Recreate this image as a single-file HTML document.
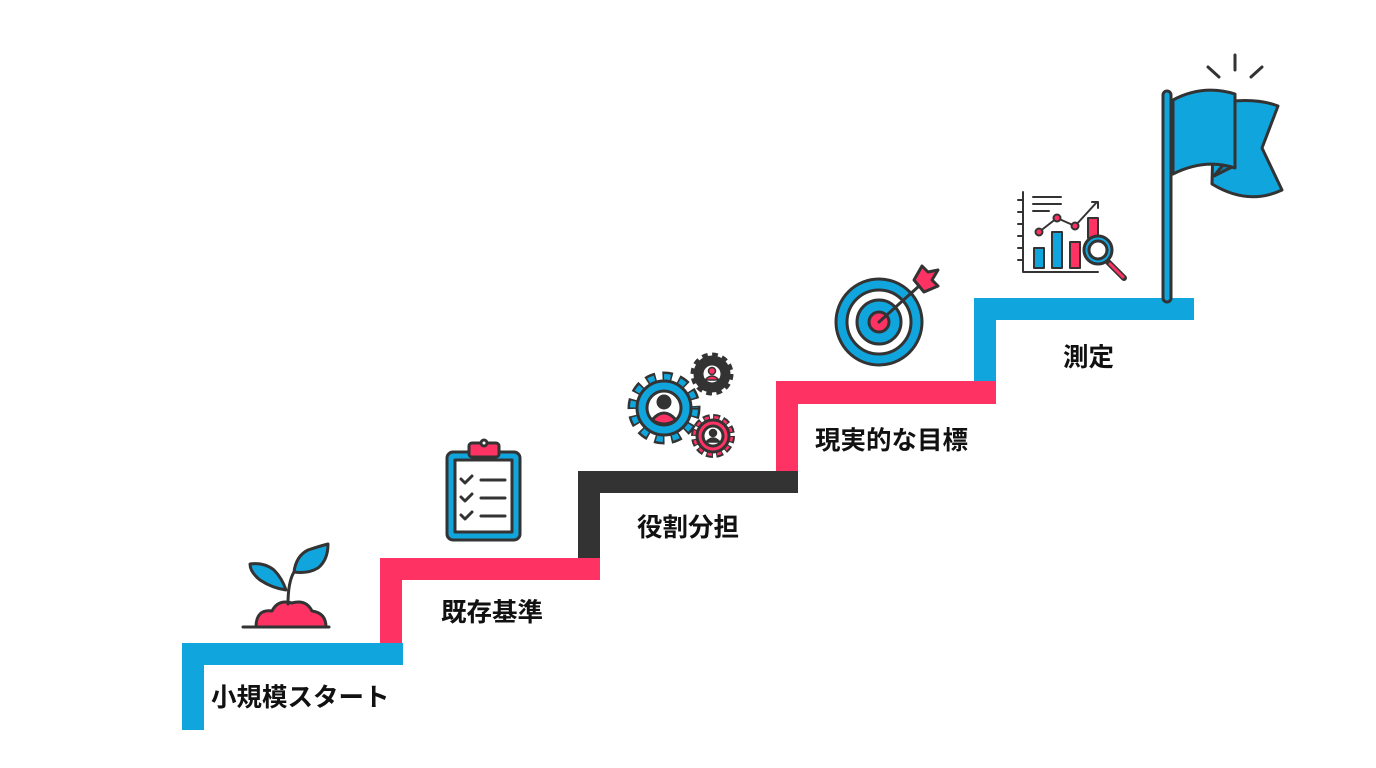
<!DOCTYPE html>
<html><head><meta charset="utf-8"><style>
body{margin:0;background:#fff;width:1376px;height:768px;overflow:hidden}
svg{position:absolute;left:0;top:0}
text{font-family:"Liberation Sans","Noto Sans CJK JP",sans-serif;font-weight:bold;font-size:25.5px;fill:#111}
</style></head><body>
<svg width="1376" height="768" viewBox="0 0 1376 768">
<g>
<rect x="182" y="643" width="22" height="87" fill="#10a5dc"/><rect x="182" y="643" width="221" height="22" fill="#10a5dc"/>
<rect x="380" y="558" width="22" height="85" fill="#fe3363"/><rect x="380" y="558" width="220" height="22" fill="#fe3363"/>
<rect x="578" y="471" width="22" height="87" fill="#333"/><rect x="578" y="471" width="220" height="22" fill="#333"/>
<rect x="776" y="381" width="22" height="90" fill="#fe3363"/><rect x="776" y="381" width="220" height="23" fill="#fe3363"/>
<rect x="974" y="298" width="22" height="83" fill="#10a5dc"/><rect x="974" y="298" width="220" height="22" fill="#10a5dc"/>
</g>
<text x="211" y="706">小規模スタート</text>
<text x="441" y="621">既存基準</text>
<text x="637" y="536">役割分担</text>
<text x="815" y="449">現実的な目標</text>
<text x="1063" y="366">測定</text>

<g stroke="#333" stroke-width="3" stroke-linecap="round" stroke-linejoin="round">
<line x1="243" y1="627" x2="329" y2="627"/>
<path d="M256 627 q0-18 16-16 q6-12 20-8 q14-4 20 8 q14 2 14 16z" fill="#fe3363"/>
<path d="M288 604 q0-22 6-32 q6-10 14-14" fill="none"/>
<path d="M286 590 q-14 -2-26-10 q-10-8-10-16 q14-2 24 6 q8 8 12 20z" fill="#10a5dc"/>
<path d="M294 572 q2-16 14-22 q12-4 20-6 q0 16-10 24 q-10 6-24 4z" fill="#10a5dc"/>
<rect x="447" y="452" width="73" height="88" rx="6" fill="#10a5dc"/>
<rect x="455" y="460" width="57" height="72" fill="#fff"/>
<rect x="469" y="443" width="30" height="14" rx="3" fill="#fe3363"/>
<circle cx="484" cy="443" r="3" fill="#fff"/>
<path d="M461 479 l4 4 l7-7 M461 497 l4 4 l7-7 M461 515 l4 4 l7-7" fill="none"/>
<path d="M481 480 h24 M481 498 h24 M481 516 h24"/>
<circle cx="664" cy="408" r="29" fill="none" stroke="#333" stroke-width="15" stroke-dasharray="9 6" stroke-linecap="butt"/>
<circle cx="664" cy="408" r="29" fill="none" stroke="#10a5dc" stroke-width="10" stroke-dasharray="6 9" stroke-dashoffset="-1.5" stroke-linecap="butt"/>
<circle cx="664" cy="408" r="27" fill="#10a5dc"/>
<circle cx="664" cy="408" r="17" fill="#fff"/>
<circle cx="664" cy="402" r="6" fill="#333"/>
<path d="M652 420 q12-14 24 0 q-12 8-24 0z" fill="#fe3363"/>
<circle cx="712" cy="374" r="17" fill="none" stroke="#333" stroke-width="9" stroke-dasharray="5 3.9" stroke-linecap="butt"/>
<circle cx="712" cy="374" r="17" fill="#333"/>
<circle cx="712" cy="374" r="10" fill="#fff"/>
<circle cx="712" cy="371" r="3.5" fill="#fe3363" stroke-width="1.5"/>
<path d="M705 380 q7-8 14 0z" fill="#fe3363" stroke-width="1.5"/>
<circle cx="713" cy="436" r="17" fill="none" stroke="#333" stroke-width="10" stroke-dasharray="6 2.9" stroke-linecap="butt"/>
<circle cx="713" cy="436" r="17" fill="none" stroke="#fe3363" stroke-width="6" stroke-dasharray="4 4.9" stroke-dashoffset="-1" stroke-linecap="butt"/>
<circle cx="713" cy="436" r="16" fill="#fe3363"/>
<circle cx="713" cy="436" r="10" fill="#fff"/>
<circle cx="713" cy="433" r="3.5" fill="#333" stroke-width="1.5"/>
<path d="M706 442 q7-8 14 0z" fill="#333" stroke-width="1.5"/>
<circle cx="879" cy="322" r="43" fill="#10a5dc"/>
<circle cx="879" cy="322" r="32" fill="#fff"/>
<circle cx="879" cy="322" r="22" fill="#10a5dc"/>
<circle cx="879" cy="322" r="10" fill="#fe3363"/>
<line x1="879" y1="322" x2="928" y2="278"/>
<path d="M914 280 l8-14 l6 6 l10-2 l-6 10 l6 6 l-14 6z" fill="#fe3363"/>
<path d="M1023 192 v80 h75 M1018 200 h5 M1018 212 h5 M1018 224 h5 M1018 236 h5 M1018 248 h5 M1018 260 h5" fill="none" stroke-width="2"/>
<path d="M1033 197 h28 M1033 204 h28 M1033 211 h16" stroke-width="2"/>
<rect x="1034" y="248" width="10" height="20" fill="#10a5dc" stroke-width="2"/>
<rect x="1052" y="232" width="10" height="36" fill="#10a5dc" stroke-width="2"/>
<rect x="1070" y="242" width="10" height="26" fill="#fe3363" stroke-width="2"/>
<rect x="1088" y="218" width="10" height="20" fill="#fe3363" stroke-width="2"/>
<path d="M1039 232 l18-14 l18 8 l22-24 M1092 202 h6 v6" fill="none" stroke-width="2"/>
<circle cx="1039" cy="232" r="3.5" fill="#fe3363" stroke-width="2"/>
<circle cx="1057" cy="218" r="3.5" fill="#fe3363" stroke-width="2"/>
<circle cx="1075" cy="226" r="3.5" fill="#fe3363" stroke-width="2"/>
<line x1="1108" y1="262" x2="1124" y2="278" stroke-width="6" stroke="#333"/>
<line x1="1110" y1="264" x2="1123" y2="277" stroke-width="3" stroke="#fe3363"/>
<circle cx="1098" cy="250" r="14" fill="#10a5dc"/>
<circle cx="1098" cy="250" r="9" fill="#fff"/>
<path d="M1167 298 V95" stroke="#333" stroke-width="11"/>
<path d="M1167 298 V95" stroke="#10a5dc" stroke-width="5"/>
<path d="M1214 104 q38-8 64 2 l-16 42 l20 42 q-34 16-70 -6z" fill="#10a5dc" stroke-width="3"/>
<path d="M1214 176 l20-10 l-2-12z" fill="#0a7fb0"/>
<path d="M1173 100 q30-16 62-6 v74 q-30-10-62 6z" fill="#10a5dc" stroke-width="3"/>
<path d="M1235 55 v15 M1208 67 l11 10 M1262 67 l-11 10"/>
</g>
</svg>
</body></html>
